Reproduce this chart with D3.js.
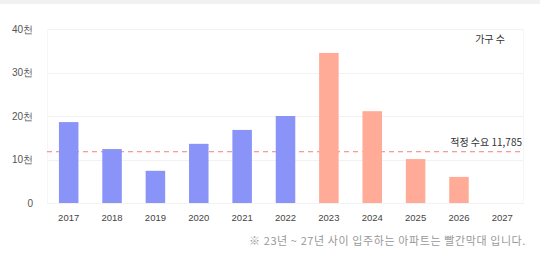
<!DOCTYPE html>
<html>
<head>
<meta charset="utf-8">
<script src="https://cdn.jsdelivr.net/npm/d3@7"></script>
<style>
  body { margin: 0; background: #fff; }
  svg { display: block; font-family: "Noto Sans CJK KR", "Noto Sans", sans-serif; }
</style>
</head>
<body>
<div id="chart"></div>
<script>
// data
var years = ["2017", "2018", "2019", "2020", "2021", "2022", "2023", "2024", "2025", "2026", "2027"];
var households = [18600, 12400, 7400, 13600, 16800, 20000, 34500, 21100, 10100, 6000, 0];
var futureYears = ["2023", "2024", "2025", "2026", "2027"];
var yTicks = [0, 10000, 20000, 30000, 40000];
var demand = 11785;

var W = 540, H = 256;
var margin = {top: 29, right: 16, bottom: 53, left: 47},
    width = W - margin.left - margin.right,
    height = H - margin.top - margin.bottom;

var svg = d3.select("#chart")
  .append("svg")
    .attr("width", W)
    .attr("height", H);

// light strip on top
svg.append("rect")
  .attr("x", 0).attr("y", 0)
  .attr("width", W).attr("height", 4)
  .attr("fill", "#f1f1f1");

var g = svg.append("g")
  .attr("transform", "translate(" + margin.left + "," + margin.top + ")");

var x = d3.scaleBand().domain(years).range([0, width]).paddingInner(0.55).paddingOuter(0.275);
var y = d3.scaleLinear().domain([0, 40000]).range([height, 0]);

// gridlines
g.selectAll(".grid")
  .data(yTicks)
  .enter().append("line")
    .attr("x1", 0).attr("x2", width)
    .attr("y1", function(d) { return Math.round(y(d)) + 0.5; })
    .attr("y2", function(d) { return Math.round(y(d)) + 0.5; })
    .attr("stroke", "#f2f2f2");

// plot edges
g.append("line").attr("x1", 0.5).attr("x2", 0.5).attr("y1", 0).attr("y2", height)
  .attr("stroke", "#f6f6f6");
g.append("line").attr("x1", width - 0.5).attr("x2", width - 0.5).attr("y1", 0).attr("y2", height)
  .attr("stroke", "#f6f6f6");

// y axis labels
var yAxis = d3.axisLeft(y).tickValues(yTicks).tickSize(0).tickPadding(14)
  .tickFormat(function(d) { return d === 0 ? "0" : (d / 1000) + "천"; });
g.append("g")
  .call(yAxis)
  .call(function(a) { a.select(".domain").remove(); })
  .selectAll("text")
    .attr("fill", "#555")
    .style("font-size", "10px");

// x axis labels
var xAxis = d3.axisBottom(x).tickSize(0).tickPadding(11);
g.append("g")
  .attr("transform", "translate(0," + height + ")")
  .call(xAxis)
  .call(function(a) { a.select(".domain").remove(); })
  .selectAll("text")
    .attr("fill", "#444")
    .style("font-size", "9.5px");

// demand dashed line
g.append("line")
  .attr("x1", 0).attr("x2", width)
  .attr("y1", y(demand)).attr("y2", y(demand))
  .attr("stroke", "#f08080")
  .attr("stroke-width", 1)
  .attr("stroke-dasharray", "5,4");

// bars
g.selectAll(".bar")
  .data(years.map(function(d, i) { return {year: d, value: households[i]}; }))
  .enter().append("rect")
    .attr("class", "bar")
    .attr("x", function(d) { return x(d.year); })
    .attr("y", function(d) { return y(d.value); })
    .attr("width", x.bandwidth())
    .attr("height", function(d) { return height - y(d.value); })
    .attr("fill", function(d) { return futureYears.indexOf(d.year) >= 0 ? "#ffab98" : "#8a93f8"; });

g.append("text")
  .attr("x", width - 2)
  .attr("y", y(demand) - 6)
  .attr("text-anchor", "end")
  .attr("fill", "#333")
  .style("font-size", "10px")
  .text("적정 수요 " + d3.format(",")(demand));

g.append("text")
  .attr("x", width - 19)
  .attr("y", 14)
  .attr("text-anchor", "end")
  .attr("fill", "#333")
  .style("font-size", "10px")
  .text("가구 수");

// footnote
svg.append("text")
  .attr("x", W - 14)
  .attr("y", 245)
  .attr("text-anchor", "end")
  .attr("fill", "#999")
  .style("font-size", "11px")
  .style("letter-spacing", "0.6px")
  .text("※ 23년 ~ 27년 사이 입주하는 아파트는 빨간막대 입니다.");
</script>
</body>
</html>
